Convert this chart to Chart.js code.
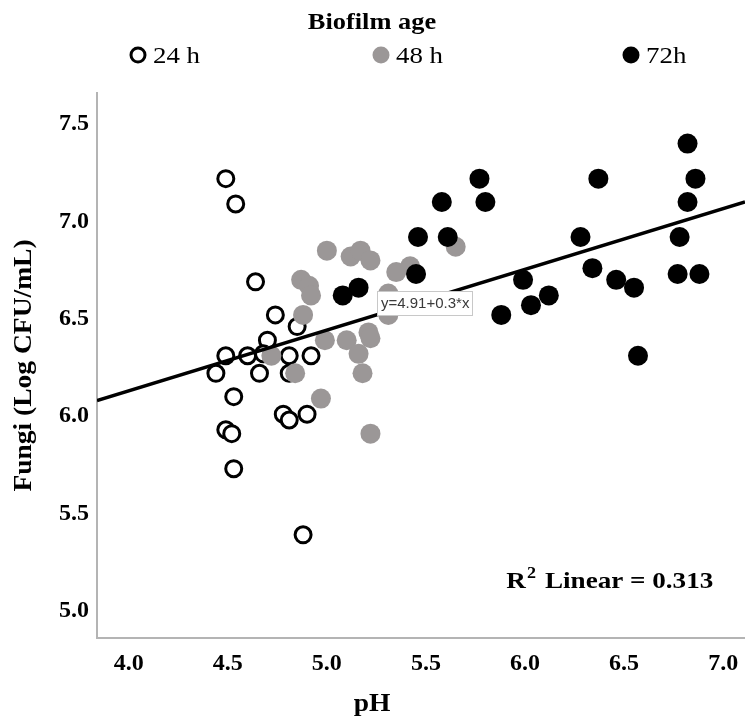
<!DOCTYPE html>
<html>
<head>
<meta charset="utf-8">
<script src="https://cdn.jsdelivr.net/npm/chart.js@4/dist/chart.umd.min.js"></script>
<style>
    html, body { margin: 0; padding: 0; background: #fff; }
    #chart { display: block; }
</style>
</head>
<body>
<canvas id="chart" width="745" height="720"></canvas>
<script>
"use strict";

// values
const seriesNames = ['24 h', '48 h', '72h'];

const ph24 = [4.49, 4.54, 4.64, 4.74, 4.85, 4.70, 4.49, 4.60, 4.68, 4.81, 4.92,
    4.44, 4.66, 4.81, 4.53, 4.78, 4.81, 4.90, 4.49, 4.52, 4.53, 4.88];
const fungi24 = [7.22, 7.09, 6.69, 6.52, 6.46, 6.39, 6.31, 6.31, 6.32, 6.31, 6.31,
    6.22, 6.22, 6.22, 6.10, 6.01, 5.98, 6.01, 5.93, 5.91, 5.73, 5.39];

const ph48 = [5.00, 5.12, 5.17, 5.22, 4.87, 4.91, 4.92, 4.88, 4.99, 5.10, 5.21, 5.22,
    5.16, 5.18, 4.84, 4.72, 4.97, 5.22, 5.31, 5.31, 5.35, 5.42, 5.65];
const fungi48 = [6.85, 6.82, 6.85, 6.80, 6.70, 6.67, 6.62, 6.52, 6.39, 6.39, 6.43, 6.40,
    6.32, 6.22, 6.22, 6.31, 6.09, 5.91, 6.63, 6.52, 6.74, 6.77, 6.87];

const ph72 = [6.82, 5.77, 6.37, 6.86, 5.58, 5.80, 6.82, 5.46, 5.61, 6.28, 6.78, 5.45,
    5.99, 6.34, 6.46, 6.55, 6.77, 6.88, 6.12, 6.03, 5.88, 6.57, 5.08, 5.16];
const fungi72 = [7.40, 7.22, 7.22, 7.22, 7.10, 7.10, 7.10, 6.92, 6.92, 6.92, 6.92, 6.73,
    6.70, 6.76, 6.70, 6.66, 6.73, 6.73, 6.62, 6.57, 6.52, 6.31, 6.62, 6.66];

// fit line, ends read at the plot edges
const fitX = [3.84, 7.11];
const fitY = [6.08, 7.10];

const fitLabel = 'y=4.91+0.3*x';
const r2Label = 'Linear = 0.313';

const serif = "'Liberation Serif', 'Times New Roman', serif";
const grey = '#9b9797';

const toPoints = (xs, ys) => xs.map((x, i) => ({x: x, y: ys[i]}));

// the source text is a bit wider than Times, so stretch it a little
function stretchText(ctx, text, x, y, font, align, sx) {
    ctx.save();
    ctx.font = font;
    ctx.translate(x, y);
    ctx.scale(sx, 1);
    ctx.textAlign = align;
    ctx.fillText(text, 0, 0);
    const w = ctx.measureText(text).width * sx;
    ctx.restore();
    return w;
}

// header with the legend of biofilm age, axis titles
const headerPlugin = {
    id: 'header',
    afterDraw: function (chart) {
        const ctx = chart.ctx;
        const area = chart.chartArea;

        ctx.save();
        ctx.fillStyle = '#000';
        ctx.textBaseline = 'middle';
        stretchText(ctx, 'Biofilm age', 372, 23, 'bold 24px ' + serif, 'center', 1.1);

        const items = [
            {x: 138, fill: '#fff', stroke: '#000', r: 7, lw: 3},
            {x: 381, fill: grey, stroke: null, r: 8.5, lw: 0},
            {x: 631, fill: '#000', stroke: null, r: 8.5, lw: 0}
        ];

        items.forEach((item, i) => {
            ctx.beginPath();
            ctx.arc(item.x, 55, item.r, 0, Math.PI * 2);
            ctx.fillStyle = item.fill;
            ctx.fill();
            if (item.stroke) {
                ctx.lineWidth = item.lw;
                ctx.strokeStyle = item.stroke;
                ctx.stroke();
            }
            ctx.fillStyle = '#000';
            stretchText(ctx, seriesNames[i], item.x + 15, 57, '24px ' + serif, 'left', 1.12);
        });

        // axis titles
        stretchText(ctx, 'pH', 372, 705, 'bold 25px ' + serif, 'center', 1.1);

        ctx.save();
        ctx.translate(25, (area.top + area.bottom) / 2);
        ctx.rotate(-Math.PI / 2);
        stretchText(ctx, 'Fungi (Log CFU/mL)', 0, 0, 'bold 25px ' + serif, 'center', 1.1);
        ctx.restore();

        ctx.restore();
    }
};

// equation box and R2 note
const notesPlugin = {
    id: 'notes',
    afterDatasetsDraw: function (chart) {
        const ctx = chart.ctx;
        const xs = chart.scales.x;
        const ys = chart.scales.y;

        ctx.save();

        // equation box
        const bx = Math.round(xs.getPixelForValue(5.255));
        const by = Math.round(ys.getPixelForValue(6.645));
        ctx.font = "15px 'Liberation Sans', Arial, sans-serif";
        const w = Math.round(ctx.measureText(fitLabel).width + 8);
        ctx.fillStyle = '#fff';
        ctx.fillRect(bx, by, w, 25);
        ctx.strokeStyle = '#c8c8c8';
        ctx.lineWidth = 1;
        ctx.strokeRect(bx + 0.5, by + 0.5, w - 1, 24);
        ctx.fillStyle = '#3a3a3a';
        ctx.textBaseline = 'middle';
        ctx.fillText(fitLabel, bx + 4, by + 13);

        // R2
        const rx = xs.getPixelForValue(6.95);
        const ry = ys.getPixelForValue(5.115);
        ctx.fillStyle = '#000';
        ctx.textBaseline = 'alphabetic';
        const lw = stretchText(ctx, r2Label, rx, ry, 'bold 24px ' + serif, 'right', 1.13);
        const sw = stretchText(ctx, '2', rx - lw - 9, ry - 10, 'bold 16px ' + serif, 'right', 1.13);
        stretchText(ctx, 'R', rx - lw - 9 - sw - 1, ry, 'bold 24px ' + serif, 'right', 1.13);

        ctx.restore();
    }
};

new Chart(document.getElementById('chart'), {
    type: 'scatter',
    data: {
        datasets: [{
            type: 'line',
            label: 'fit',
            data: toPoints(fitX, fitY),
            borderColor: '#000',
            borderWidth: 3.5,
            pointRadius: 0,
            fill: false,
            order: 0
        }, {
            label: seriesNames[2],
            data: toPoints(ph72, fungi72),
            backgroundColor: '#000',
            borderWidth: 0,
            pointRadius: 10,
            order: 1
        }, {
            label: seriesNames[1],
            data: toPoints(ph48, fungi48),
            backgroundColor: grey,
            borderWidth: 0,
            pointRadius: 10,
            order: 2
        }, {
            label: seriesNames[0],
            data: toPoints(ph24, fungi24),
            backgroundColor: '#fff',
            borderColor: '#000',
            borderWidth: 3,
            pointRadius: 8,
            order: 3
        }]
    },
    options: {
        responsive: false,
        animation: false,
        devicePixelRatio: 1,
        layout: {
            autoPadding: false,
            padding: {top: 93, left: 0, right: 0, bottom: 0}
        },
        plugins: {
            legend: {display: false},
            tooltip: {enabled: false}
        },
        scales: {
            x: {
                type: 'linear',
                min: 3.84,
                max: 7.11,
                afterFit: (scale) => {
                    scale.height = 82;
                    scale.paddingLeft = 0;
                    scale.paddingRight = 0;
                },
                grid: {display: false, drawTicks: false},
                border: {display: true, color: '#b4b4b4', width: 2},
                ticks: {
                    stepSize: 0.5,
                    includeBounds: false,
                    padding: 11,
                    color: '#000',
                    font: {family: serif, size: 24, weight: 'bold'},
                    callback: (v) => v.toFixed(1)
                }
            },
            y: {
                type: 'linear',
                min: 4.86,
                max: 7.66,
                afterFit: (scale) => {
                    scale.width = 97;
                    scale.paddingTop = 0;
                    scale.paddingBottom = 0;
                },
                grid: {display: false, drawTicks: false},
                border: {display: true, color: '#b4b4b4', width: 2},
                ticks: {
                    stepSize: 0.5,
                    includeBounds: false,
                    padding: 8,
                    color: '#000',
                    font: {family: serif, size: 24, weight: 'bold'},
                    callback: (v) => v.toFixed(1)
                }
            }
        }
    },
    plugins: [headerPlugin, notesPlugin]
});
</script>
</body>
</html>
